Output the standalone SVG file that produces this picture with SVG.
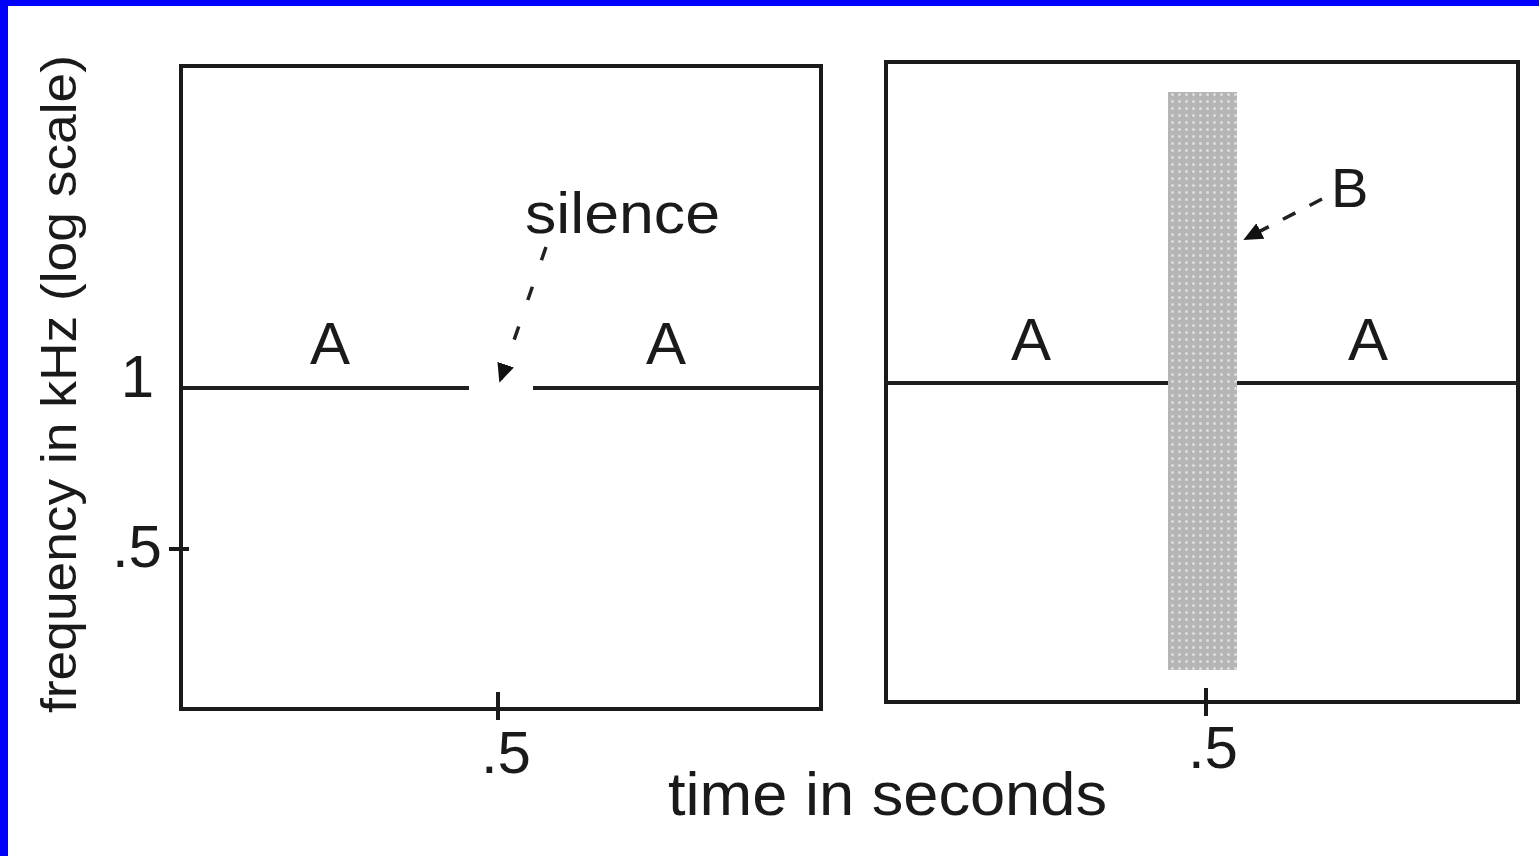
<svg xmlns="http://www.w3.org/2000/svg" width="1539" height="856" viewBox="0 0 1539 856">
<style>
.frame{fill:none;stroke:#1a1a1a;stroke-width:4}
.ln{stroke:#1f1f1f;stroke-width:4;fill:none}
.tk{stroke:#1a1a1a;stroke-width:4}
.t{font-family:"Liberation Sans",Arial,sans-serif;fill:#1a1a1a}
.dash{stroke:#222;stroke-width:3.5;fill:none}
</style>
<defs>
<pattern id="dots" width="7" height="7" patternUnits="userSpaceOnUse">
<rect width="7" height="7" fill="#b5b5b5"/>
<circle cx="3.5" cy="3.5" r="1.5" fill="#dedede"/>
</pattern>
<marker id="ah" viewBox="0 0 10 10" refX="9" refY="5" markerWidth="5.5" markerHeight="5.5" orient="auto" markerUnits="strokeWidth">
<path d="M0,0.5 L10,5 L0,9.5 z" fill="#111"/>
</marker>
</defs>
<rect width="1539" height="856" fill="#ffffff"/>
<rect x="0" y="0" width="1539" height="6" fill="#0000ff"/>
<rect x="0" y="0" width="8" height="856" fill="#0000ff"/>

<g id="axis-y-label">
<text class="t" font-size="50" transform="translate(76,713) rotate(-90)" textLength="658" lengthAdjust="spacingAndGlyphs">frequency in kHz (log scale)</text>
</g>
<g id="axis-x-label">
<text class="t" x="668" y="815" font-size="62" textLength="439" lengthAdjust="spacingAndGlyphs">time in seconds</text>
</g>

<g id="panel-left">
<rect class="frame" x="181" y="66" width="640" height="643"/>
<line class="ln" x1="181" y1="388" x2="469" y2="388"/>
<line class="ln" x1="533" y1="388" x2="821" y2="388"/>
<line class="tk" x1="169" y1="549" x2="189" y2="549"/>
<line class="tk" x1="498" y1="692" x2="498" y2="720"/>
<text class="t" x="154" y="397" font-size="60" text-anchor="end">1</text>
<text class="t" x="162" y="567" font-size="60" text-anchor="end">.5</text>
<text class="t" x="531" y="773" font-size="60" text-anchor="end">.5</text>
<text class="t" x="330" y="364" font-size="60" text-anchor="middle">A</text>
<text class="t" x="666" y="364" font-size="60" text-anchor="middle">A</text>
<text class="t" x="525" y="233" font-size="57" textLength="195" lengthAdjust="spacingAndGlyphs">silence</text>
</g>

<g id="panel-right">
<rect class="frame" x="886" y="62" width="632" height="640"/>
<line class="ln" x1="886" y1="383" x2="1518" y2="383"/>
<rect id="B-bar" x="1168" y="92" width="69" height="578" fill="url(#dots)"/>
<line class="tk" x1="1206" y1="688" x2="1206" y2="716"/>
<text class="t" x="1238" y="768" font-size="60" text-anchor="end">.5</text>
<text class="t" x="1031" y="360" font-size="60" text-anchor="middle">A</text>
<text class="t" x="1368" y="360" font-size="60" text-anchor="middle">A</text>
<text class="t" x="1331" y="207" font-size="56">B</text>
</g>

<g id="connectors">
<path class="dash" d="M546,247 L500,381" stroke-dasharray="14 28" marker-end="url(#ah)"/>
<path class="dash" d="M1322,199 L1245,239" stroke-dasharray="14 16" marker-end="url(#ah)"/>
</g>
</svg>
